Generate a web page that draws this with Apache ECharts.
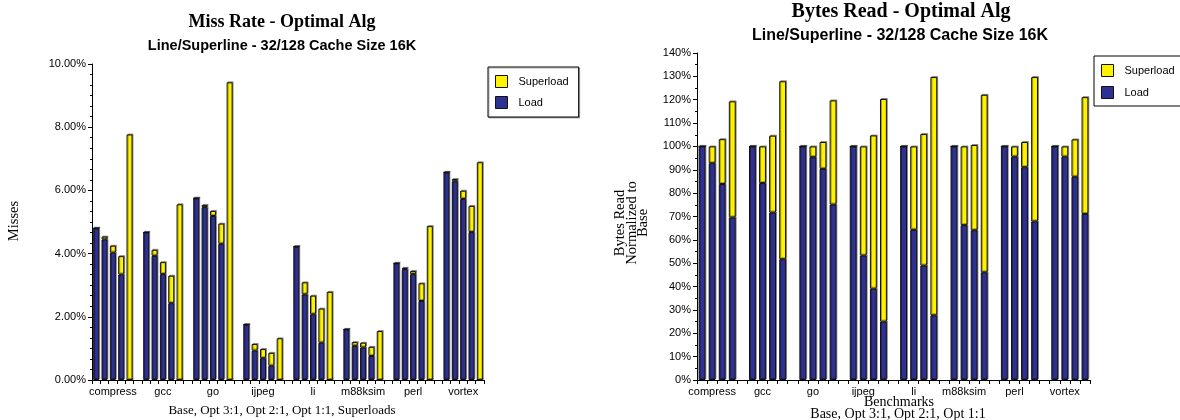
<!DOCTYPE html>
<html>
<head>
<meta charset="utf-8">
<script src="https://cdn.jsdelivr.net/npm/echarts@6/dist/echarts.min.js"></script>
<style>
html,body{margin:0;padding:0;background:#fff;}
#chart{width:1180px;height:420px;}
</style>
</head>
<body>
<div id="chart"></div>
<script>
// ---------- data ----------
const benchmarks = ['compress', 'gcc', 'go', 'ijpeg', 'li', 'm88ksim', 'perl', 'vortex'];

// Miss rate (%) - left chart: Base, Opt 3:1, Opt 2:1, Opt 1:1, Superloads
const missBase        = [4.80, 4.67, 5.75, 1.75, 4.22, 1.60, 3.69, 6.57];
const missOpt31Load   = [4.45, 3.93, 5.47, 0.93, 2.71, 1.08, 3.51, 6.29];
const missOpt31Super  = [0.09, 0.19, 0.07, 0.21, 0.38, 0.12, 0.04, 0.07];
const missOpt21Load   = [4.03, 3.35, 5.19, 0.69, 2.08, 1.03, 3.35, 5.73];
const missOpt21Super  = [0.22, 0.38, 0.16, 0.29, 0.59, 0.15, 0.10, 0.26];
const missOpt11Load   = [3.34, 2.43, 4.31, 0.45, 1.18, 0.76, 2.50, 4.68];
const missOpt11Super  = [0.58, 0.87, 0.64, 0.41, 1.08, 0.29, 0.56, 0.83];
const missSuperloads  = [7.77, 5.56, 9.42, 1.32, 2.79, 1.55, 4.87, 6.89];

// Bytes read normalized to base (%) - right chart: Base, Opt 3:1, Opt 2:1, Opt 1:1
const bytesBase       = [100, 100, 100, 100, 100, 100, 100, 100];
const bytesOpt31Load  = [92.8, 84.3, 95.4, 53.3, 64.3, 66.3, 95.6, 95.6];
const bytesOpt31Super = [7.2, 15.7, 4.6, 46.7, 35.7, 33.7, 4.4, 4.4];
const bytesOpt21Load  = [83.9, 71.7, 90.4, 39.1, 49.0, 64.1, 91.1, 87.0];
const bytesOpt21Super = [19.2, 32.9, 11.5, 65.6, 56.3, 36.5, 10.8, 16.0];
const bytesOpt11Load  = [69.6, 51.7, 75.1, 25.0, 27.7, 46.1, 67.9, 71.1];
const bytesOpt11Super = [49.7, 76.2, 44.6, 95.3, 102.0, 76.0, 61.8, 50.0];

const missTicks  = [0, 2, 4, 6, 8, 10];
const bytesTicks = [0, 10, 20, 30, 40, 50, 60, 70, 80, 90, 100, 110, 120, 130, 140];

// ---------- build slot series (bars per group + one empty slot between groups) ----------
function buildSlots(loadCols, superCols) {
  const per = loadCols.length;
  const load = [], sup = [], names = [];
  benchmarks.forEach((b, g) => {
    for (let k = 0; k < per; k++) {
      load.push(loadCols[k][g]);
      sup.push(superCols[k][g]);
      names.push(b + '#' + k);
    }
    if (g < benchmarks.length - 1) {
      load.push('-'); sup.push('-'); names.push(b + '#gap');
    }
  });
  return {load, sup, names, per};
}
const zeros = benchmarks.map(() => 0);
const left = buildSlots(
  [missBase, missOpt31Load, missOpt21Load, missOpt11Load, zeros],
  [zeros, missOpt31Super, missOpt21Super, missOpt11Super, missSuperloads]
);
const right = buildSlots(
  [bytesBase, bytesOpt31Load, bytesOpt21Load, bytesOpt11Load],
  [zeros, bytesOpt31Super, bytesOpt21Super, bytesOpt11Super]
);

const LOAD = '#2e3192', SUPER = '#fff200';
const SANS = '"Liberation Sans", Arial, sans-serif';
const SERIF = '"Liberation Serif", "Times New Roman", serif';

function labelFor(slots, labelIdx) {
  return function (v, i) {
    const stride = slots.per + 1;
    if (i % stride === labelIdx) return benchmarks[Math.floor(i / stride)];
    return '';
  };
}

const barStyle = (c) => ({
  color: c, borderColor: '#111', borderWidth: 1,
  shadowColor: 'rgba(0,0,0,0.35)', shadowOffsetX: 1, shadowOffsetY: -1, shadowBlur: 0
});

const commonX = {
  type: 'category', boundaryGap: true,
  axisLine: {lineStyle: {color: '#000', width: 1}},
  axisTick: {show: true, interval: 0, length: 4, lineStyle: {color: '#000'}},
  axisLabel: {interval: 0, color: '#000', fontFamily: SANS, fontSize: 11, margin: 6},
  splitLine: {show: false}
};
const commonY = {
  type: 'value',
  axisLine: {show: true, lineStyle: {color: '#000', width: 1}},
  axisTick: {show: true, length: 4, lineStyle: {color: '#000'}},
  minorTick: {show: true, length: 2, lineStyle: {color: '#000'}},
  axisLabel: {color: '#000', fontFamily: SANS, fontSize: 11, margin: 6},
  splitLine: {show: false}
};

const legendCommon = {
  orient: 'vertical', data: ['Superload', 'Load'], icon: 'rect',
  itemWidth: 12, itemHeight: 12,
  borderColor: '#000', borderWidth: 1, backgroundColor: '#fff',
  textStyle: {fontFamily: SANS, fontSize: 11, color: '#000', padding: [0, 0, 0, 6]},
  itemStyle: {borderColor: '#111', borderWidth: 1}, selectedMode: false
};

const chart = echarts.init(document.getElementById('chart'), null, {renderer: 'canvas'});
chart.setOption({
  animation: false,
  backgroundColor: '#fff',
  grid: [
    {left: 92, top: 64, width: 392, height: 316},
    {left: 697, top: 53, width: 393, height: 327}
  ],
  xAxis: [
    Object.assign({}, commonX, {gridIndex: 0, data: left.names,
      axisLabel: Object.assign({}, commonX.axisLabel, {formatter: labelFor(left, 2)})}),
    Object.assign({}, commonX, {gridIndex: 1, data: right.names,
      axisLabel: Object.assign({}, commonX.axisLabel, {formatter: labelFor(right, 1)})})
  ],
  yAxis: [
    Object.assign({}, commonY, {gridIndex: 0, min: missTicks[0], max: missTicks[missTicks.length - 1],
      interval: missTicks[1] - missTicks[0],
      minorTick: Object.assign({}, commonY.minorTick, {splitNumber: 6}),
      axisLabel: Object.assign({}, commonY.axisLabel, {formatter: v => v.toFixed(2) + '%'})}),
    Object.assign({}, commonY, {gridIndex: 1, min: bytesTicks[0], max: bytesTicks[bytesTicks.length - 1],
      interval: bytesTicks[1] - bytesTicks[0],
      minorTick: Object.assign({}, commonY.minorTick, {splitNumber: 2}),
      axisLabel: Object.assign({}, commonY.axisLabel, {formatter: v => v + '%'})})
  ],
  legend: [
    Object.assign({}, legendCommon, {left: 488, top: 67, itemGap: 8, padding: [8, 10, 8, 7],
      shadowColor: 'rgba(0,0,0,0.3)', shadowOffsetX: 1, shadowOffsetY: 1}),
    Object.assign({}, legendCommon, {left: 1094, top: 56, itemGap: 9, padding: [8, 6, 7, 7]})
  ],
  series: [
    {name: 'Load', type: 'bar', xAxisIndex: 0, yAxisIndex: 0, stack: 'L', barWidth: '72%',
     data: left.load, itemStyle: barStyle(LOAD)},
    {name: 'Superload', type: 'bar', xAxisIndex: 0, yAxisIndex: 0, stack: 'L', barWidth: '72%',
     data: left.sup, itemStyle: barStyle(SUPER)},
    {name: 'Load', type: 'bar', xAxisIndex: 1, yAxisIndex: 1, stack: 'R', barWidth: '68%',
     data: right.load, itemStyle: barStyle(LOAD)},
    {name: 'Superload', type: 'bar', xAxisIndex: 1, yAxisIndex: 1, stack: 'R', barWidth: '68%',
     data: right.sup, itemStyle: barStyle(SUPER)}
  ],
  graphic: [
    {type: 'text', x: 282, y: 22, style: {text: 'Miss Rate - Optimal Alg', font: 'bold 18px ' + SERIF, fill: '#000', align: 'center', verticalAlign: 'middle'}},
    {type: 'text', x: 282, y: 46, style: {text: 'Line/Superline - 32/128 Cache Size 16K', font: 'bold 14.5px ' + SANS, fill: '#000', align: 'center', verticalAlign: 'middle'}},
    {type: 'text', x: 901, y: 12, style: {text: 'Bytes Read - Optimal Alg', font: 'bold 20px ' + SERIF, fill: '#000', align: 'center', verticalAlign: 'middle'}},
    {type: 'text', x: 900, y: 36, style: {text: 'Line/Superline - 32/128 Cache Size 16K', font: 'bold 16px ' + SANS, fill: '#000', align: 'center', verticalAlign: 'middle'}},
    {type: 'text', x: 14, y: 221, rotation: Math.PI / 2, style: {text: 'Misses', font: '14.5px ' + SERIF, fill: '#000', align: 'center', verticalAlign: 'middle'}},
    {type: 'text', x: 632, y: 223, rotation: Math.PI / 2, style: {text: 'Bytes Read\nNormalized to\nBase', font: '14.5px ' + SERIF, fill: '#000', align: 'center', verticalAlign: 'middle', lineHeight: 11.5}},
    {type: 'text', x: 282, y: 411, style: {text: 'Base, Opt 3:1, Opt 2:1, Opt 1:1, Superloads', font: '13px ' + SERIF, fill: '#000', align: 'center', verticalAlign: 'middle'}},
    {type: 'text', x: 899, y: 402, style: {text: 'Benchmarks', font: '14px ' + SERIF, fill: '#000', align: 'center', verticalAlign: 'middle'}},
    {type: 'text', x: 898, y: 414, style: {text: 'Base, Opt 3:1, Opt 2:1, Opt 1:1', font: '14px ' + SERIF, fill: '#000', align: 'center', verticalAlign: 'middle'}}
  ]
});
</script>
</body>
</html>
